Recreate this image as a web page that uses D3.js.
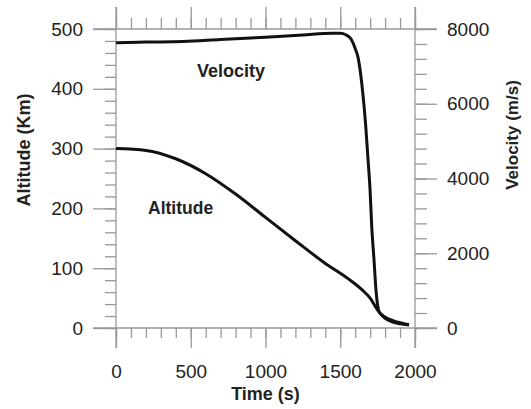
<!DOCTYPE html>
<html>
<head>
<meta charset="utf-8">
<script src="https://cdn.jsdelivr.net/npm/d3@7"></script>
<style>
  body { margin: 0; background: #fff; }
  svg text { font-family: "Liberation Sans", Arial, sans-serif; fill: #222; }
</style>
</head>
<body>
<svg id="chart" width="531" height="409"></svg>
<script>
"use strict";

// time axis (s)
var timeTicks = [0, 500, 1000, 1500, 2000];
var altTicks = [0, 100, 200, 300, 400, 500];
var velTicks = [0, 2000, 4000, 6000, 8000];

// velocity (m/s)
var velTime = [0, 200, 450, 700, 1000, 1250, 1450, 1500, 1540, 1570, 1600, 1620, 1650, 1670, 1685, 1700, 1710, 1725, 1740, 1760, 1790, 1830, 1880, 1960];
var velValue = [7634, 7650, 7665, 7720, 7780, 7840, 7885, 7885, 7840, 7745, 7480, 7220, 6320, 5430, 4550, 3650, 2760, 1870, 970, 440, 320, 230, 160, 90];

// altitude (km)
var altTime = [0, 200, 400, 600, 800, 1000, 1200, 1400, 1550, 1650, 1700, 1750, 1800, 1850, 1900, 1960];
var altValue = [300, 297, 283, 258, 224, 185, 146, 108, 83, 63, 50, 30, 16, 10, 7, 5];

var svg = d3.select("#chart");
var pLeft = 116, pRight = 415, pTop = 29, pBottom = 328;
var majorLen = 22, minorLen = 11;
var axisColor = "#999";

var x = d3.scaleLinear().domain([0, 2000]).range([pLeft, pRight]);
var yAlt = d3.scaleLinear().domain([0, 500]).range([pBottom, pTop]);
var yVel = d3.scaleLinear().domain([0, 8000]).range([pBottom, pTop]);

function minorOf(scale, step) {
  return d3.range(scale.domain()[0], scale.domain()[1] + 1e-9, step);
}

function styleAxis(g) {
  g.select(".domain").remove();
  g.selectAll(".tick line").attr("stroke", axisColor).attr("stroke-width", 1.3);
  g.selectAll(".tick text").style("font-size", "19px").attr("fill", "#222");
}

// minor ticks
svg.append("g").attr("transform", "translate(0," + pBottom + ")")
  .call(d3.axisBottom(x).tickValues(minorOf(x, 100)).tickSize(10).tickFormat(""))
  .call(styleAxis);
svg.append("g").attr("transform", "translate(0," + pTop + ")")
  .call(d3.axisTop(x).tickValues(minorOf(x, 100)).tickSize(minorLen).tickFormat(""))
  .call(styleAxis);
svg.append("g").attr("transform", "translate(" + pLeft + ",0)")
  .call(d3.axisLeft(yAlt).tickValues(minorOf(yAlt, 20)).tickSize(minorLen).tickFormat(""))
  .call(styleAxis);
svg.append("g").attr("transform", "translate(" + pRight + ",0)")
  .call(d3.axisRight(yVel).tickValues(minorOf(yVel, 400)).tickSize(minorLen + 1).tickFormat(""))
  .call(styleAxis);

// major ticks + labels
svg.append("g").attr("transform", "translate(0," + pBottom + ")")
  .call(d3.axisBottom(x).tickValues(timeTicks).tickSize(20).tickPadding(17).tickFormat(d3.format("d")))
  .call(styleAxis);
svg.append("g").attr("transform", "translate(0," + pTop + ")")
  .call(d3.axisTop(x).tickValues(timeTicks).tickSize(majorLen).tickFormat(""))
  .call(styleAxis);
svg.append("g").attr("transform", "translate(" + pLeft + ",0)")
  .call(d3.axisLeft(yAlt).tickValues(altTicks).tickSize(23).tickPadding(10).tickFormat(d3.format("d")))
  .call(styleAxis);
svg.append("g").attr("transform", "translate(" + pRight + ",0)")
  .call(d3.axisRight(yVel).tickValues(velTicks).tickSize(majorLen).tickPadding(10).tickFormat(d3.format("d")))
  .call(styleAxis);

// frame lines running past the corners
var frame = svg.append("g").attr("stroke", axisColor).attr("stroke-width", 1.3);
frame.append("line").attr("x1", pLeft - 23).attr("x2", pRight + majorLen).attr("y1", pTop).attr("y2", pTop);
frame.append("line").attr("x1", pLeft - 23).attr("x2", pRight + majorLen).attr("y1", pBottom).attr("y2", pBottom);
frame.append("line").attr("x1", pLeft).attr("x2", pLeft).attr("y1", pTop - majorLen).attr("y2", pBottom + 20);
frame.append("line").attr("x1", pRight).attr("x2", pRight).attr("y1", pTop - majorLen).attr("y2", pBottom + 20);

// curves
var velLine = d3.line()
  .x(function (d, i) { return x(velTime[i]); })
  .y(function (d) { return yVel(d); })
  .curve(d3.curveMonotoneX);
var altLine = d3.line()
  .x(function (d, i) { return x(altTime[i]); })
  .y(function (d) { return yAlt(d); })
  .curve(d3.curveMonotoneX);

svg.append("path").datum(velValue).attr("d", velLine)
  .attr("fill", "none").attr("stroke", "#111").attr("stroke-width", 3);
svg.append("path").datum(altValue).attr("d", altLine)
  .attr("fill", "none").attr("stroke", "#111").attr("stroke-width", 3);

// labels
svg.append("text").attr("x", 197).attr("y", 77)
  .style("font-size", "18px").style("font-weight", "bold").text("Velocity");
svg.append("text").attr("x", 148).attr("y", 214)
  .style("font-size", "17.5px").style("font-weight", "bold").text("Altitude");

svg.append("text").attr("x", (pLeft + pRight) / 2).attr("y", 400).attr("text-anchor", "middle")
  .style("font-size", "18px").style("font-weight", "bold").text("Time (s)");
svg.append("text").attr("transform", "translate(30,150) rotate(-90)").attr("text-anchor", "middle")
  .style("font-size", "18px").style("font-weight", "bold").text("Altitude (Km)");
svg.append("text").attr("transform", "translate(518,135) rotate(-90)").attr("text-anchor", "middle")
  .style("font-size", "17px").style("font-weight", "bold").text("Velocity (m/s)");
</script>
</body>
</html>
